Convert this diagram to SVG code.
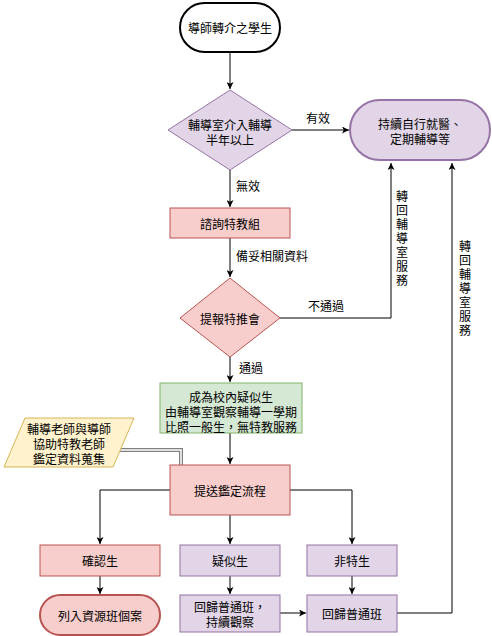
<svg xmlns="http://www.w3.org/2000/svg" width="492" height="636" viewBox="0 0 492 636">
<defs>
<marker id="ah" viewBox="0 0 10 10" refX="10" refY="5" markerWidth="7" markerHeight="7" orient="auto" markerUnits="userSpaceOnUse"><path d="M0,0 L10,5 L0,10 L2.5,5 Z" fill="#000"/></marker>
<style>
text{font-family:"Noto Sans CJK TC","Noto Sans CJK SC",sans-serif;font-size:12px;fill:#000;text-anchor:middle;dominant-baseline:central}
.c{fill:none;stroke:#000;stroke-width:1}
.pur{fill:#e1d5e7;stroke:#9673a6;stroke-width:1}
.red{fill:#f8cecc;stroke:#b85450;stroke-width:1}
.grn{fill:#d5e8d4;stroke:#82b366;stroke-width:1}
.yel{fill:#fff2cc;stroke:#d6b656;stroke-width:1}
.lbl{text-anchor:start}
.vt{writing-mode:vertical-rl;text-orientation:upright;text-anchor:start;dominant-baseline:auto;letter-spacing:2px}
</style>
</defs>
<rect width="492" height="636" fill="#fff"/>
<g id="connectors">
<path class="c" d="M230,52 V89" marker-end="url(#ah)"/>
<path class="c" d="M292,130 H349" marker-end="url(#ah)"/>
<path class="c" d="M230,170 V207" marker-end="url(#ah)"/>
<path class="c" d="M230,238 V277" marker-end="url(#ah)"/>
<path class="c" d="M280,318 H391 V163" marker-end="url(#ah)"/>
<path class="c" d="M230,357 V382" marker-end="url(#ah)"/>
<path class="c" d="M230,433 V464" marker-end="url(#ah)"/>
<path d="M115,450 H181 V465" fill="none" stroke="#7f7f7f" stroke-width="4"/>
<path d="M115,450 H181 V465" fill="none" stroke="#fff" stroke-width="1.5"/>
<path class="c" d="M170,490 H100 V544" marker-end="url(#ah)"/>
<path class="c" d="M230,515 V544" marker-end="url(#ah)"/>
<path class="c" d="M290,490 H352 V544" marker-end="url(#ah)"/>
<path class="c" d="M100,576 V594" marker-end="url(#ah)"/>
<path class="c" d="M230,576 V594" marker-end="url(#ah)"/>
<path class="c" d="M352,576 V594" marker-end="url(#ah)"/>
<path class="c" d="M280,613 H306" marker-end="url(#ah)"/>
<path class="c" d="M397,613 H452 V163" marker-end="url(#ah)"/>
<text class="lbl" x="306" y="117">有效</text>
<text class="lbl" x="236" y="185">無效</text>
<text class="lbl" x="236" y="255">備妥相關資料</text>
<text class="lbl" x="308" y="305">不通過</text>
<text class="lbl" x="239" y="367">通過</text>
<text class="vt" x="402" y="190">轉回輔導室服務</text>
<text class="vt" x="465" y="240">轉回輔導室服務</text>
</g>
<g id="start"><rect x="180" y="3" width="100" height="49" rx="24.5" fill="#fff" stroke="#000" stroke-width="2"/><text x="230" y="27.5">導師轉介之學生</text></g>
<g id="d1"><polygon class="pur" points="230,90 292,130 230,170 168,130"/><text x="230" y="124">輔導室介入輔導<tspan x="230" dy="15">半年以上</tspan></text></g>
<g id="cont"><rect x="350" y="100" width="140" height="60" rx="30" class="pur" style="stroke-width:2"/><text x="420" y="123">持續自行就醫、<tspan x="420" dy="15">定期輔導等</tspan></text></g>
<g id="consult"><rect x="170" y="208" width="120" height="30" class="red"/><text x="230" y="223">諮詢特教組</text></g>
<g id="d2"><polygon class="red" points="230,278 280,318 230,357 180,318"/><text x="230" y="318">提報特推會</text></g>
<g id="suspect"><rect x="160" y="383" width="142" height="50" class="grn"/><text x="231" y="396">成為校內疑似生<tspan x="231" dy="15">由輔導室觀察輔導一學期</tspan><tspan x="231" dy="15">比照一般生，無特教服務</tspan></text></g>
<g id="data"><polygon class="yel" points="25,418 134,418 113,467 4,467"/><text x="69" y="428">輔導老師與導師<tspan x="69" dy="15">協助特教老師</tspan><tspan x="69" dy="15">鑑定資料蒐集</tspan></text></g>
<g id="submit"><rect x="170" y="465" width="120" height="50" class="red"/><text x="230" y="490">提送鑑定流程</text></g>
<g id="confirmed"><rect x="40" y="545" width="120" height="31" class="red"/><text x="100" y="560.5">確認生</text></g>
<g id="doubt"><rect x="180" y="545" width="100" height="31" class="pur"/><text x="230" y="560.5">疑似生</text></g>
<g id="non"><rect x="307" y="545" width="90" height="31" class="pur"/><text x="352" y="560.5">非特生</text></g>
<g id="resource"><rect x="40" y="595" width="120" height="40" rx="20" class="red" style="stroke-width:2"/><text x="100" y="615">列入資源班個案</text></g>
<g id="back1"><rect x="180" y="595" width="100" height="37" class="pur"/><text x="230" y="606">回歸普通班，<tspan x="230" dy="15">持續觀察</tspan></text></g>
<g id="back2"><rect x="307" y="595" width="90" height="37" class="pur"/><text x="352" y="613.5">回歸普通班</text></g>
</svg>
